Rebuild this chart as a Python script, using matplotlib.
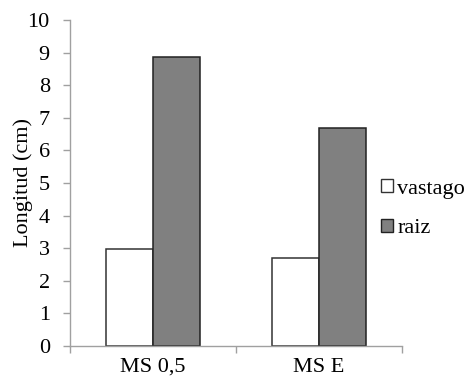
import matplotlib
matplotlib.use('Agg')
import matplotlib.pyplot as plt
import numpy as np
from matplotlib.patches import Patch

categories = ['MS 0,5', 'MS E']
vastago = [2.97, 2.71]
raiz = [8.86, 6.69]

plt.rcParams['font.family'] = ['Liberation Serif', 'DejaVu Serif']
fs = 16

fig = plt.figure(figsize=(4.76, 3.9), dpi=100, facecolor='w')
ax = fig.add_axes([0.147, 0.1128, 0.698, 0.836])

x = np.arange(len(categories))
w = 0.283
ax.bar(x - w/2, vastago, w, color='white', edgecolor='#333333', lw=1.1, label='vastago')
ax.bar(x + w/2, raiz, w, color='#808080', edgecolor='#222222', lw=1.1, label='raiz')

ax.set_xlim(-0.5, 1.5)
ax.set_ylim(0, 10)
ax.set_yticks(range(0, 11))
ax.set_xticks(x)
ax.set_xticklabels(categories)
ax.set_xticks([-0.5, 0.5, 1.5], minor=True)
ax.tick_params(axis='x', which='major', length=0, pad=8.5, labelsize=fs)
ax.tick_params(axis='x', which='minor', length=5, color='#a0a0a0', width=1.0)
ax.tick_params(axis='y', length=5, color='#a0a0a0', width=1.0, labelsize=fs, pad=9.5)

for s in ['top', 'right']:
    ax.spines[s].set_visible(False)
for s in ['left', 'bottom']:
    ax.spines[s].set_color('#a0a0a0')
    ax.spines[s].set_linewidth(1.0)

ax.set_ylabel('Longitud (cm)', fontsize=fs)
ax.yaxis.set_label_coords(-0.11, 0.5)

handles = [Patch(facecolor='white', edgecolor='#333333', lw=1.0),
           Patch(facecolor='#808080', edgecolor='#222222', lw=1.0)]
fig.legend(handles, ['vastago', 'raiz'], loc='center left', bbox_to_anchor=(0.80, 0.465),
           frameon=False, fontsize=fs, handlelength=0.55, handleheight=0.55,
           handletextpad=0.2, labelspacing=0.9, borderpad=0, borderaxespad=0)

fig.savefig('out.png', dpi=100, facecolor='w')
